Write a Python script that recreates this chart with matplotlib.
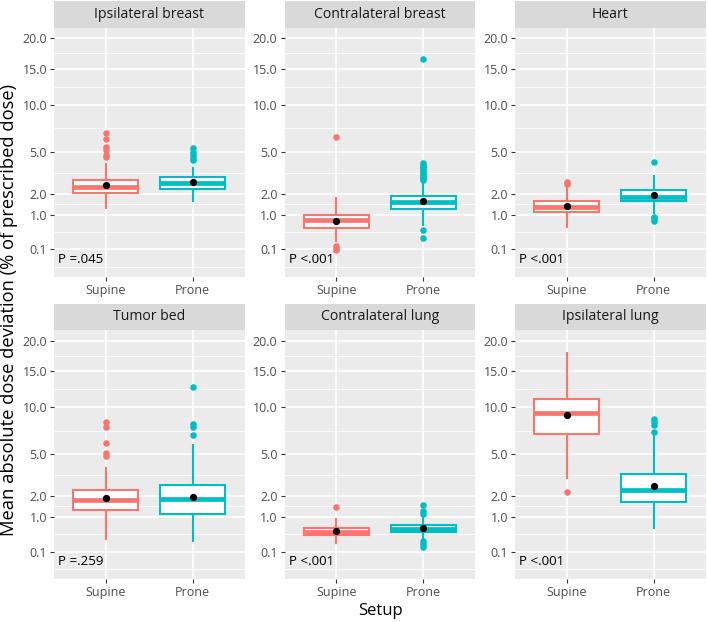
import numpy as np
import matplotlib
matplotlib.use("Agg")
import matplotlib.pyplot as plt

plt.rcParams['font.family'] = ['Open Sans', 'DejaVu Sans']

# data
organs = ['Ipsilateral breast', 'Contralateral breast', 'Heart',
          'Tumor bed', 'Contralateral lung', 'Ipsilateral lung']
setups = ['Supine', 'Prone']
p_values = ['P =.045', 'P <.001', 'P <.001', 'P =.259', 'P <.001', 'P <.001']

# per organ: [supine, prone]
q1 = [[2.01, 2.28], [0.55, 1.25], [1.12, 1.61], [1.29, 1.10], [0.41, 0.49], [6.97, 1.69]]
med = [[2.40, 2.61], [0.80, 1.57], [1.31, 1.80], [1.78, 1.85], [0.49, 0.59], [9.24, 2.32]]
q3 = [[2.83, 3.05], [0.98, 1.85], [1.62, 2.20], [2.32, 2.65], [0.62, 0.71], [11.08, 3.40]]
whislo = [[1.29, 1.61], [0.24, 0.62], [0.58, 1.05], [0.33, 0.28], [0.23, 0.31], [3.10, 0.62]]
whishi = [[3.96, 3.65], [1.78, 2.72], [2.76, 3.10], [3.88, 5.81], [0.93, 1.04], [17.8, 7.07]]
means = [[2.51, 2.70], [0.76, 1.62], [1.35, 1.92], [1.87, 1.96], [0.52, 0.61], [9.04, 2.57]]
fliers = [
    [[6.82, 6.16, 5.46, 5.16, 4.72, 4.53], [5.31, 5.01, 4.72, 4.45, 4.30]],
    [[6.39, 0.146, 0.11, 0.092],
     [16.5, 4.04, 3.9, 3.77, 3.65, 3.53, 3.4, 3.29, 3.15, 3.05, 2.95, 2.83, 0.48, 0.30]],
    [[2.71, 2.57], [4.17, 0.92, 0.86, 0.77]],
    [[8.23, 7.67, 6.07, 5.14, 4.84], [12.65, 8.05, 7.67, 6.79]],
    [[1.45], [1.51, 1.25, 1.10, 0.28, 0.21, 0.17]],
    [[2.22], [8.61, 8.23, 7.86, 7.14]],
]
y_breaks = [0.1, 1.0, 2.0, 5.0, 10.0, 15.0, 20.0]
colors = ['#F8766D', '#00BFC4']


# sqrt scale like scale_y_sqrt
def fwd(y):
    return np.sign(y) * np.sqrt(np.abs(y))


def inv(y):
    return np.sign(y) * y ** 2


sb = fwd(np.array(y_breaks))
step = sb[1] - sb[0]
ext = np.concatenate([[sb[0] - step], sb])
minor = inv((ext[:-1] + ext[1:]) / 2)

W, H = 708, 622
fig = plt.figure(figsize=(W / 100, H / 100), dpi=100)

lefts = [54, 284.5, 515]
pw = 190.5
rows = [(27.7, 276.7, 1.0), (330, 579, 304)]

for i, organ in enumerate(organs):
    r, c = divmod(i, 3)
    top, bot, stop = rows[r]
    ax = fig.add_axes([lefts[c] / W, 1 - bot / H, pw / W, (bot - top) / H])
    ax.set_facecolor('#EBEBEB')
    for s in ax.spines.values():
        s.set_visible(False)

    stats = []
    for j in range(2):
        stats.append(dict(med=med[i][j], q1=q1[i][j], q3=q3[i][j],
                          whislo=whislo[i][j], whishi=whishi[i][j],
                          fliers=fliers[i][j], mean=means[i][j]))
    bp = ax.bxp(stats, positions=[1, 2], widths=0.75, patch_artist=True,
                showmeans=True, showcaps=False, manage_ticks=False)
    for j in range(2):
        col = colors[j]
        bp['boxes'][j].set(facecolor='white', edgecolor=col, linewidth=1.5)
        bp['medians'][j].set(color=col, linewidth=3.4, solid_capstyle='butt')
        bp['whiskers'][2 * j].set(color=col, linewidth=1.5)
        bp['whiskers'][2 * j + 1].set(color=col, linewidth=1.5)
        bp['fliers'][j].set(marker='o', markerfacecolor=col, markeredgecolor=col,
                            markersize=3.7)
        bp['means'][j].set(marker='o', markerfacecolor='black', markeredgecolor='black',
                           markersize=4.2)

    ax.set_yscale('function', functions=(fwd, inv))
    ax.set_ylim(inv(-0.222), inv(4.679))
    ax.set_xlim(0.4, 2.6)
    ax.set_yticks(y_breaks)
    ax.set_yticklabels(['%.1f' % v for v in y_breaks])
    ax.set_yticks(minor, minor=True)
    ax.set_xticks([1, 2])
    ax.set_xticklabels(setups)
    ax.grid(which='major', color='white', linewidth=1.2)
    ax.grid(which='minor', color='white', linewidth=0.6)
    ax.set_axisbelow(True)
    ax.tick_params(which='major', length=3, width=0.8, color='#333333',
                   labelcolor='#4D4D4D', labelsize=9, pad=2)
    ax.tick_params(which='minor', length=0)
    ax.text(0.022, 0.07, p_values[i], transform=ax.transAxes, fontsize=9.6,
            color='black', va='center', ha='left')

    # facet strip
    sax = fig.add_axes([lefts[c] / W, 1 - top / H, pw / W, (top - stop) / H])
    sax.set_facecolor('#D9D9D9')
    sax.set_xticks([])
    sax.set_yticks([])
    for s in sax.spines.values():
        s.set_visible(False)
    sax.text(0.5, 0.5, organ, ha='center', va='center', fontsize=10.1,
             color='#1A1A1A', transform=sax.transAxes)

fig.text(9 / W, 1 - 310 / H, 'Mean absolute dose deviation (% of prescribed dose)',
         rotation=90, ha='center', va='center', fontsize=13.2)
fig.text(380 / W, 1 - 611 / H, 'Setup', ha='center', va='center', fontsize=12)

fig.savefig('out.png', dpi=100)
